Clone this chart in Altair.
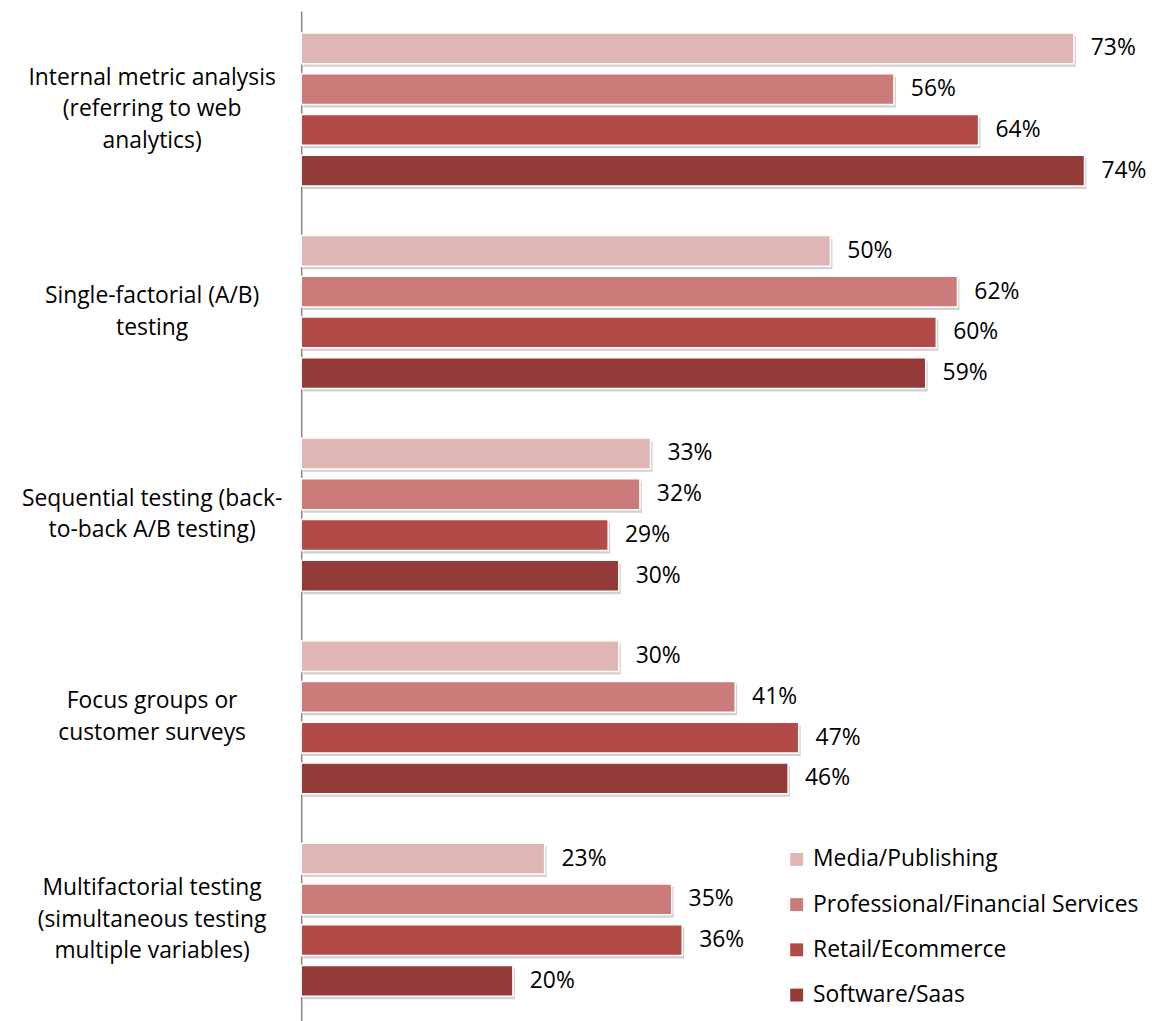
import altair as alt
import pandas as pd

categories = [
    "Internal metric analysis\n(referring to web\nanalytics)",
    "Single-factorial (A/B)\ntesting",
    "Sequential testing (back-\nto-back A/B testing)",
    "Focus groups or\ncustomer surveys",
    "Multifactorial testing\n(simultaneous testing\nmultiple variables)",
]
series = [
    "Media/Publishing",
    "Professional/Financial Services",
    "Retail/Ecommerce",
    "Software/Saas",
]
colors = ["#DFB5B5", "#CB7B7A", "#B24A48", "#943B3A"]

media = [73, 50, 33, 30, 23]
professional = [56, 62, 32, 41, 35]
retail = [64, 60, 29, 47, 36]
software = [74, 59, 30, 46, 20]

rows = []
for s, vals in zip(series, [media, professional, retail, software]):
    for c, v in zip(categories, vals):
        rows.append({"category": c, "series": s, "value": v, "label": f"{v}%"})
df = pd.DataFrame(rows)
cat_df = pd.DataFrame({"category": categories})
cat_df["lines"] = cat_df["category"].str.count("\n") + 1

FONT = "Open Sans"

y_enc = alt.Y(
    "category:N",
    sort=categories,
    scale=alt.Scale(paddingInner=0, paddingOuter=0),
    axis=alt.Axis(labels=False, ticks=False, title=None, domainColor="#868686", domainWidth=1.5, grid=False),
)
yoff_enc = alt.YOffset(
    "series:N", sort=series,
    scale=alt.Scale(type="band", paddingInner=0.244, paddingOuter=0.607, align=0.442),
)
yoff_shadow = alt.YOffset(
    "series:N", sort=series,
    scale=alt.Scale(type="band", paddingInner=0.244, paddingOuter=0.607, align=0.502),
)
x_enc = alt.X("value:Q", scale=alt.Scale(domain=[0, 80]), axis=None)

shadow = alt.Chart(df).mark_bar(color="#7a7a7a", opacity=0.35, xOffset=2).encode(
    y=y_enc, yOffset=yoff_shadow, x=x_enc
)

base = alt.Chart(df).encode(y=y_enc, yOffset=yoff_enc)

bars = base.mark_bar(stroke="white", strokeWidth=1.5).encode(
    x=x_enc,
    color=alt.Color(
        "series:N",
        sort=series,
        scale=alt.Scale(domain=series, range=colors),
        legend=alt.Legend(
            title=None,
            orient="none",
            legendX=487,
            legendY=842,
            symbolType="square",
            symbolSize=169,
            symbolStrokeWidth=0,
            labelFont=FONT,
            labelFontSize=23,
            labelColor="black",
            rowPadding=21.5,
            labelOffset=5,
            labelLimit=400,
        ),
    ),
)

values = base.mark_text(align="left", dx=17, fontSize=23, font=FONT, color="black").encode(
    x=x_enc, text="label:N"
)

label_style = dict(align="center", baseline="middle", lineBreak="\n", fontSize=23,
                   lineHeight=32, font=FONT, color="black")

cat3 = alt.Chart(cat_df).transform_filter("datum.lines == 3").mark_text(dy=-35, **label_style).encode(
    y=alt.Y("category:N", sort=categories), x=alt.value(-150), text="category:N"
)
cat2 = alt.Chart(cat_df).transform_filter("datum.lines == 2").mark_text(dy=-19, **label_style).encode(
    y=alt.Y("category:N", sort=categories), x=alt.value(-150), text="category:N"
)

chart = (
    alt.layer(shadow, bars, values, cat3, cat2)
    .resolve_scale(yOffset="independent")
    .properties(
        width=852,
        height=1019,
        autosize=alt.AutoSizeParams(type="none"),
        padding={"left": 295, "top": 0, "right": 0, "bottom": 0},
    )
    .configure_view(stroke=None)
)

chart.save("out.html", embed_options={"renderer": "svg", "actions": False})
